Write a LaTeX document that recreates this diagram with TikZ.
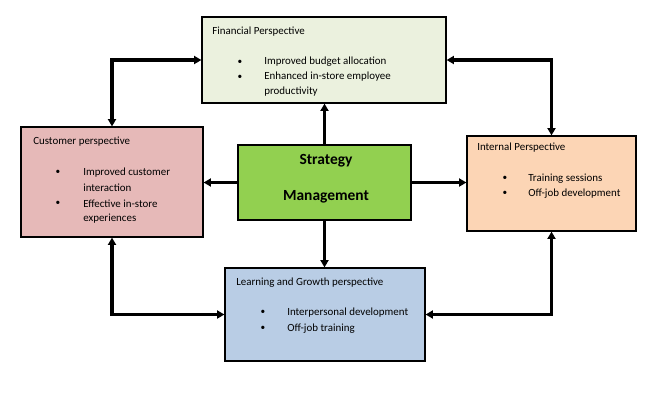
\documentclass[tikz,border=0pt]{standalone}
\usepackage{fontspec}
\setmainfont{Carlito}
\usetikzlibrary{arrows.meta}
\definecolor{finc}{HTML}{EBF1DE}
\definecolor{cusc}{HTML}{E6B9B8}
\definecolor{intc}{HTML}{FCD5B5}
\definecolor{lrnc}{HTML}{B9CDE5}
\definecolor{strc}{HTML}{92D050}
\tikzset{
  box/.style={draw=black, line width=0.9pt, inner sep=0pt},
  txt/.style={anchor=west, inner sep=0pt, font=\fontsize{8.2}{10}\selectfont},
  bul/.style={anchor=center, inner sep=0pt, font=\fontsize{7}{9}\selectfont},
  conn/.style={line width=2.3pt, {Triangle[length=5.5pt,width=6pt]}-{Triangle[length=5.5pt,width=6pt]}},
  oneway/.style={line width=1.6pt, -{Triangle[length=5.5pt,width=6pt]}},
  big/.style={inner sep=0pt, font=\fontsize{11.6}{14}\bfseries\selectfont}
}
\begin{document}
\begin{tikzpicture}[x=0.75pt,y=-0.75pt]
\useasboundingbox (0,0) rectangle (655,408);
% boxes
\node[box, fill=finc, minimum width=244*0.75pt, minimum height=86*0.75pt] (fin) at (324,60) {};
\node[box, fill=cusc, minimum width=182*0.75pt, minimum height=110*0.75pt] (cus) at (112,182) {};
\node[box, fill=intc, minimum width=169*0.75pt, minimum height=95*0.75pt] (int) at (551.5,183.5) {};
\node[box, fill=lrnc, minimum width=200*0.75pt, minimum height=93*0.75pt] (lrn) at (325,314.5) {};
\node[box, fill=strc, minimum width=173*0.75pt, minimum height=75*0.75pt] (str) at (324.5,182.5) {};
% financial text
\node[txt] (fint) at (212,32) {Financial Perspective};
\node[bul] (finb1) at (240,62) {•};
\node[txt] (fin1) at (264,62) {Improved budget allocation};
\node[bul] (finb2) at (240,77) {•};
\node[txt] (fin2) at (264,77) {Enhanced in-store employee};
\node[txt] (fin3) at (264,92) {productivity};
% customer text
\node[txt] (cust) at (33,142) {Customer perspective};
\node[bul] (cusb1) at (58,172.5) {•};
\node[txt] (cus1) at (83,172.5) {Improved customer};
\node[txt] (cus2) at (83,187.5) {interaction};
\node[bul] (cusb2) at (58,203.5) {•};
\node[txt] (cus3) at (83,203.5) {Effective in-store};
\node[txt] (cus4) at (83,218.5) {experiences};
% internal text
\node[txt] (intt) at (477,147.5) {Internal Perspective};
\node[bul] (intb1) at (505,178.5) {•};
\node[txt] (int1) at (528,178.5) {Training sessions};
\node[bul] (intb2) at (505,193.5) {•};
\node[txt] (int2) at (528,193.5) {Off-job development};
% learning text
\node[txt] (lrnt) at (236,283) {Learning and Growth perspective};
\node[bul] (lrnb1) at (263,312.5) {•};
\node[txt] (lrn1) at (287,312.5) {Interpersonal development};
\node[bul] (lrnb2) at (263,328.5) {•};
\node[txt] (lrn2) at (287,328.5) {Off-job training};
% strategy text
\node[big] (str1) at (326,161) {Strategy};
\node[big] (str2) at (326,197) {Management};
% connectors
\draw[conn] (fin.west) -| (cus.north);
\draw[conn] (fin.east) -| (int.north);
\draw[conn] (cus.south) |- (lrn.west);
\draw[conn] (int.south) |- (lrn.east);
\draw[oneway] (str.west) -- (cus.east |- str.west);
\draw[oneway] (str.east) -- (int.west |- str.east);
\draw[oneway] (str.north) -- (fin.south -| str.north);
\draw[oneway] (str.south) -- (lrn.north -| str.south);
\end{tikzpicture}
\end{document}
